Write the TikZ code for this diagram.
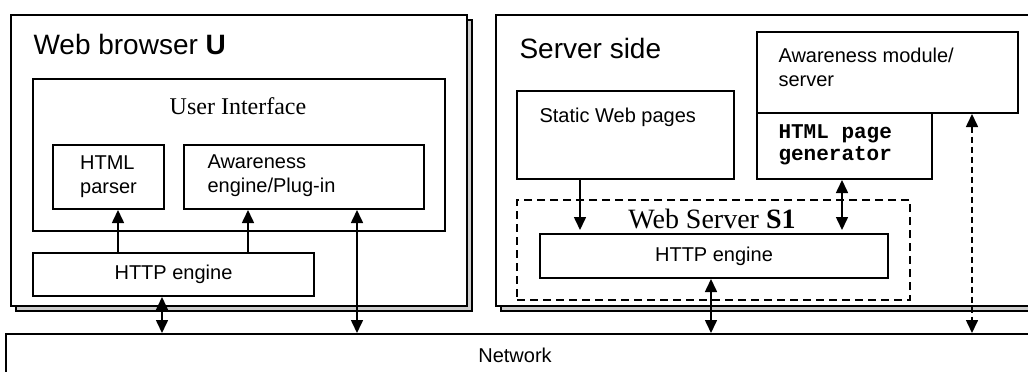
\documentclass[tikz,border=0pt]{standalone}
\usepackage{fontspec}
\setmainfont{Liberation Sans}
\setmonofont{Liberation Mono}
\newfontfamily\timesfont{Liberation Serif}
\usetikzlibrary{arrows.meta}

\begin{document}
\begin{tikzpicture}[x=1pt,y=-1pt,>={Triangle[length=13pt,width=12pt]},
  every node/.style={font=\fontsize{20}{24}\selectfont},
  box/.style={draw,line width=2pt,fill=white,anchor=north west,inner sep=0pt},
  outer/.style={box,line width=2.4pt},
  shade/.style={draw,line width=1.4pt,fill=gray!40},
  title/.style={anchor=west,font=\fontsize{28}{31}\selectfont},
  serif/.style={font=\timesfont\fontsize{24}{27}\selectfont},
  link/.style={line width=1.6pt}]
  \useasboundingbox (0,0) rectangle (1028,372);

  % browser side
  \fill[shade] (16,20) rectangle (472,311);
  \node[outer,minimum width=456,minimum height=291] (browser) at (10,14) {};
  \node[title] (btitle) at (30,44) {Web browser \textbf{U}};
  \node[box,minimum width=412,minimum height=152] (ui) at (32,78) {};
  \node[serif] (uitext) at (238,106) {User Interface};
  \node[box,minimum width=111,minimum height=64] (parser) at (52,144) {};
  \node[align=left] (parsertext) at (parser.center) {HTML\\parser};
  \node[box,minimum width=240,minimum height=64] (aweng) at (183,144) {};
  \node[align=left,anchor=west] (awengtext) at (204,176) {Awareness\\engine/Plug-in};
  \node[box,minimum width=281,minimum height=43] (bhttp) at (32,252) {};
  \node (bhttptext) at (bhttp.center) {HTTP engine};

  % server side
  \fill[shade] (501,20) rectangle (1046,311);
  \node[outer,minimum width=545,minimum height=291] (server) at (495,14) {};
  \node[title] (stitle) at (516,48) {Server side};
  \node[box,minimum width=217,minimum height=88] (static) at (516,90) {};
  \node[anchor=west] (statictext) at (536,117) {Static Web pages};
  \node[box,minimum width=261,minimum height=81] (amod) at (756,31) {};
  \node[align=left,anchor=west] (amodtext) at (775,67) {Awareness module/\\server};
  \node[box,minimum width=175,minimum height=66] (gen) at (756,112) {};
  \node[align=left,anchor=west,font=\ttfamily\bfseries\fontsize{21}{22}\selectfont] (gentext) at (775,145) {HTML page\\generator};
  \node[box,dash pattern=on 8pt off 5pt,line width=2pt,fill=none,minimum width=393,minimum height=100] (ws) at (516,199) {};
  \node[serif,font=\timesfont\fontsize{28}{30}\selectfont] (wstext) at (712,219) {Web Server \textbf{S1}};
  \node[box,minimum width=348,minimum height=44] (shttp) at (539,233) {};
  \node (shttptext) at (shttp.center) {HTTP engine};

  % network
  \node[box,minimum width=1040,minimum height=60] (net) at (5,333) {};
  \node (nettext) at (515,355) {Network};

  % connectors
  \coordinate (c1) at (118,0);
  \coordinate (c2) at (248,0);
  \coordinate (c3) at (357,0);
  \coordinate (c4) at (162,0);
  \coordinate (c5) at (580,0);
  \coordinate (c6) at (842,0);
  \coordinate (c7) at (711,0);
  \coordinate (c8) at (972,0);
  \draw[link,->] (bhttp.north -| c1) -- (parser.south -| c1);
  \draw[link,->] (bhttp.north -| c2) -- (aweng.south -| c2);
  \draw[link,<->] (net.north -| c3) -- (aweng.south -| c3);
  \draw[link,<->] (bhttp.south -| c4) -- (net.north -| c4);
  \draw[link,->] (static.south -| c5) -- ([yshift=3pt]shttp.north -| c5);
  \draw[link,<->] (gen.south -| c6) -- ([yshift=3pt]shttp.north -| c6);
  \draw[link,<->] (shttp.south -| c7) -- (net.north -| c7);
  \draw[link,dash pattern=on 6pt off 4pt,<->] (amod.south -| c8) -- (net.north -| c8);
\end{tikzpicture}
\end{document}
